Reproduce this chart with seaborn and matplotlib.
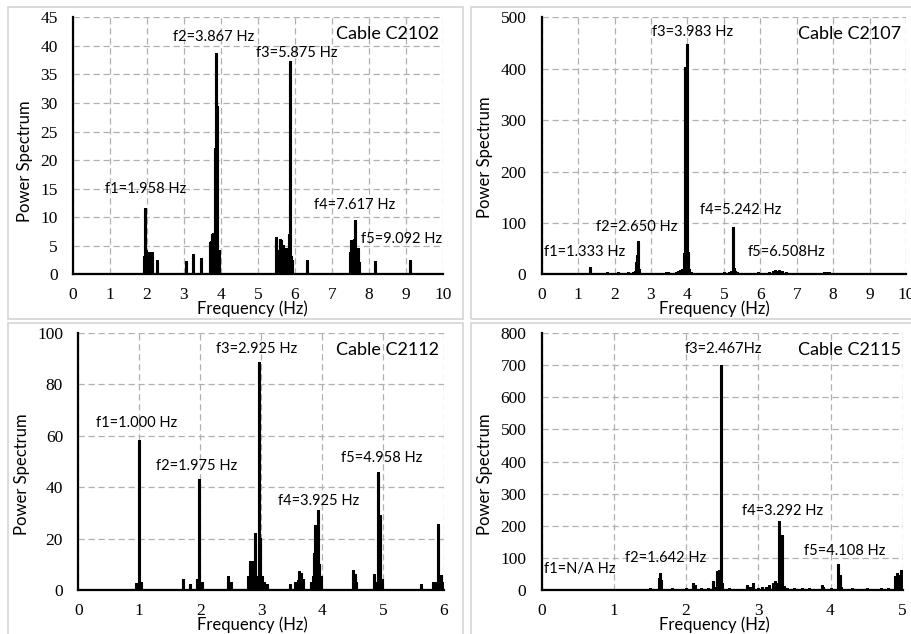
import numpy as np
import pandas as pd
import matplotlib
matplotlib.use("Agg")
import matplotlib.pyplot as plt
from matplotlib.patches import Rectangle
import seaborn as sns

# ---------------- data (spectral lines) ----------------
c2102_freq = [1.925, 1.942, 1.958, 1.967, 1.975, 2.0, 2.025, 2.05, 2.075, 2.1, 2.125, 2.267,
              3.05, 3.25, 3.458,
              3.70, 3.725, 3.75, 3.775, 3.80, 3.825, 3.85, 3.867, 3.883, 3.90, 3.95,
              5.50, 5.525, 5.55, 5.575, 5.60, 5.625, 5.65, 5.675, 5.70, 5.725, 5.75, 5.775,
              5.80, 5.825, 5.85, 5.875, 5.90, 5.925, 6.317,
              7.483, 7.50, 7.525, 7.55, 7.575, 7.60, 7.617, 7.64, 7.667, 7.70, 7.717,
              8.158, 9.10]
c2102_power = [3.0, 11.4, 10.5, 4.0, 3.7, 3.7, 3.7, 3.7, 3.7, 3.7, 3.7, 2.3,
               2.1, 3.3, 2.7,
               5.5, 5.6, 6.9, 7.0, 5.0, 22.0, 4.0, 38.5, 4.0, 29.3, 4.0,
               6.3, 3.5, 4.0, 3.0, 6.0, 5.8, 3.5, 5.0, 3.8, 4.0, 4.5, 3.5,
               4.5, 6.8, 4.0, 37.2, 3.0, 2.4, 2.3,
               3.4, 3.8, 5.8, 5.9, 4.5, 6.0, 9.4, 4.0, 4.3, 4.4, 2.0,
               2.1, 2.3]

c2107_freq = [1.333, 1.783, 2.10, 2.367, 2.50, 2.55, 2.583, 2.60, 2.625, 2.65, 2.675,
              3.40, 3.467, 3.70, 3.75, 3.80, 3.85, 3.90, 3.925, 3.95, 3.983, 4.00, 4.025, 4.05, 4.10,
              5.00, 5.15, 5.20, 5.242, 5.267, 5.30, 5.35,
              5.93, 6.25, 6.35, 6.40, 6.45, 6.508, 6.55, 6.60, 6.70,
              7.75, 7.80, 7.85, 7.90]
c2107_power = [13, 3, 2, 2, 3, 5, 10, 22, 35, 62, 8,
               3, 3, 3, 4, 6, 8, 40, 402, 30, 447, 40, 42, 8, 3,
               2, 3, 5, 90, 10, 5, 3,
               2, 3, 5, 6, 5, 6, 5, 4, 3,
               3, 3, 3, 3]

c2112_freq = [0.95, 1.00, 1.033,
              1.717, 1.825, 1.95, 1.983, 2.025,
              2.45, 2.50,
              2.783, 2.817, 2.85, 2.883, 2.90, 2.925, 2.958, 2.983, 3.017, 3.05, 3.10,
              3.467, 3.55, 3.60, 3.617, 3.65, 3.683,
              3.817, 3.85, 3.867, 3.883, 3.90, 3.925, 3.95, 3.983,
              4.508, 4.533, 4.55,
              4.85, 4.883, 4.925, 4.958, 4.975,
              5.617, 5.825, 5.85, 5.90, 5.925, 5.95, 5.983]
c2112_power = [2.5, 57.8, 3,
               4, 2, 4, 43, 3,
               5, 3,
               5, 11, 11, 11, 22, 5, 88.2, 20, 5, 3, 2,
               2, 3, 3.5, 7, 6.5, 4,
               3, 5, 14, 25, 20, 30.7, 10, 5,
               7.5, 6, 3,
               6, 3, 45.5, 29, 4,
               2, 3, 3, 25.5, 5, 5.5, 3]

c2115_freq = [0.8, 1.2, 1.5, 1.625, 1.642, 1.658, 1.8,
              2.00, 2.10, 2.117, 2.20, 2.30, 2.367, 2.383,
              2.433, 2.45, 2.467, 2.483, 2.50, 2.60,
              2.85, 2.883, 2.933, 3.00, 3.05, 3.10, 3.15, 3.20, 3.233, 3.25,
              3.292, 3.317, 3.333, 3.358, 3.40,
              3.50, 3.60, 3.70, 3.883, 3.90, 4.00,
              4.10, 4.125, 4.15,
              4.30, 4.50, 4.70, 4.80, 4.90, 4.925, 4.95, 4.975, 5.00]
c2115_power = [2, 2, 3, 35, 50, 30, 3,
               5, 20, 12, 4, 5, 25, 8,
               57, 60, 25, 697, 20, 3,
               12, 8, 20, 5, 6, 8, 12, 20, 25, 20,
               213, 60, 170, 10, 5,
               3, 3, 4, 12, 6, 4,
               78, 45, 8,
               3, 3, 4, 5, 40, 50, 45, 60, 20]

panel_names = ["Cable C2102", "Cable C2107", "Cable C2112", "Cable C2115"]
panel_freqs = [c2102_freq, c2107_freq, c2112_freq, c2115_freq]
panel_powers = [c2102_power, c2107_power, c2112_power, c2115_power]
x_max = [10, 10, 6, 5]
y_max = [45, 500, 100, 800]
y_step = [5, 100, 20, 100]

annot_text = [
    ["f1=1.958 Hz", "f2=3.867 Hz", "f3=5.875 Hz", "f4=7.617 Hz", "f5=9.092 Hz"],
    ["f1=1.333 Hz", "f2=2.650 Hz", "f3=3.983 Hz", "f4=5.242 Hz", "f5=6.508Hz"],
    ["f1=1.000 Hz", "f2=1.975 Hz", "f3=2.925 Hz", "f4=3.925 Hz", "f5=4.958 Hz"],
    ["f1=N/A Hz", "f2=1.642 Hz", "f3=2.467Hz", "f4=3.292 Hz", "f5=4.108 Hz"],
]
annot_pos = [
    [(1.97, 14.9), (3.81, 41.6), (6.05, 38.8), (7.62, 12.1), (8.88, 6.2)],
    [(1.19, 42.8), (2.62, 92.7), (4.14, 470.8), (5.45, 125), (6.72, 44)],
    [(0.96, 64.9), (1.94, 48.3), (2.93, 93.5), (3.94, 34.8), (4.98, 51.4)],
    [(0.53, 65), (1.72, 101), (2.51, 748), (3.33, 245), (4.19, 122)],
]
title_pos = [(8.49, 42.1), (8.46, 467), (5.07, 93.1), (4.26, 745)]
xlabel_x = [0.486, 0.473, 0.475, 0.478]
ylabel_y = [0.441, 0.456, 0.45, 0.45]

# ---------------- layout ----------------
W, H = 912, 634
sns.set_theme(style="white")
plt.rcParams["font.family"] = ["Lato", "DejaVu Sans"]

fig = plt.figure(figsize=(W / 100, H / 100), dpi=100)
fig.patch.set_facecolor("white")

# axes boxes in pixels: (x0, x1, ytop, ybottom)
boxes = [(73, 443, 17.3, 274.3), (541.7, 906, 17.3, 274.3),
         (78.3, 444, 332.7, 590.3), (541.7, 902.7, 332.7, 590.3)]
# panel frames in pixels
frames = [(8, 462.7, 7, 319.3), (471, 916, 7, 319.3),
          (8, 462.7, 323, 640), (471, 916, 323, 640)]

for (fx0, fx1, fy0, fy1) in frames:
    fig.add_artist(Rectangle((fx0 / W, 1 - fy1 / H), (fx1 - fx0) / W, (fy1 - fy0) / H,
                             transform=fig.transFigure, fill=False,
                             edgecolor="#d4d4d4", linewidth=1.2))

serif = ["Liberation Serif", "DejaVu Serif"]

for i in range(4):
    x0, x1, yt, yb = boxes[i]
    ax = fig.add_axes([x0 / W, 1 - yb / H, (x1 - x0) / W, (yb - yt) / H])
    ax.set_facecolor("white")

    xs, ys = [0.0], [0.0]
    for f, p in zip(panel_freqs[i], panel_powers[i]):
        xs += [f, f, f]
        ys += [0.0, p, 0.0]
    xs.append(float(x_max[i]))
    ys.append(0.0)
    df = pd.DataFrame({"Frequency": xs, "Power": ys})
    sns.lineplot(data=df, x="Frequency", y="Power", ax=ax, color="black",
                 linewidth=2.2, estimator=None, sort=False, zorder=3)

    ax.set_xlim(0, x_max[i])
    ax.set_ylim(0, y_max[i])
    ax.set_xticks(np.arange(0, x_max[i] + 1, 1))
    ax.set_yticks(np.arange(0, y_max[i] + y_step[i], y_step[i]))
    ax.grid(True, linestyle=(0, (5, 3)), color="#b0b0b0", linewidth=0.9)
    ax.set_axisbelow(True)
    for s in ["top", "right"]:
        ax.spines[s].set_visible(False)
    for s in ["left", "bottom"]:
        ax.spines[s].set_color("black")
        ax.spines[s].set_linewidth(1.6)
        ax.spines[s].set_zorder(4)
    ax.tick_params(axis="both", length=0, labelsize=12.5)
    ax.tick_params(axis="x", pad=9.5)
    ax.tick_params(axis="y", pad=11)
    for lab in ax.get_xticklabels() + ax.get_yticklabels():
        lab.set_family(serif)
        lab.set_color("black")

    ax.set_xlabel("Frequency (Hz)", fontsize=12, labelpad=-2, color="black")
    ax.set_ylabel("Power Spectrum", fontsize=12, labelpad=5, color="black")
    ax.xaxis.label.set_x(xlabel_x[i])
    ax.yaxis.label.set_y(ylabel_y[i])

    for txt, (tx, ty) in zip(annot_text[i], annot_pos[i]):
        ax.text(tx, ty, txt, ha="center", va="center", fontsize=10.5,
                color="black", zorder=5)
    ax.text(title_pos[i][0], title_pos[i][1], panel_names[i], ha="center",
            va="center", fontsize=13, color="black", zorder=5)

fig.savefig("out.png", dpi=100)
